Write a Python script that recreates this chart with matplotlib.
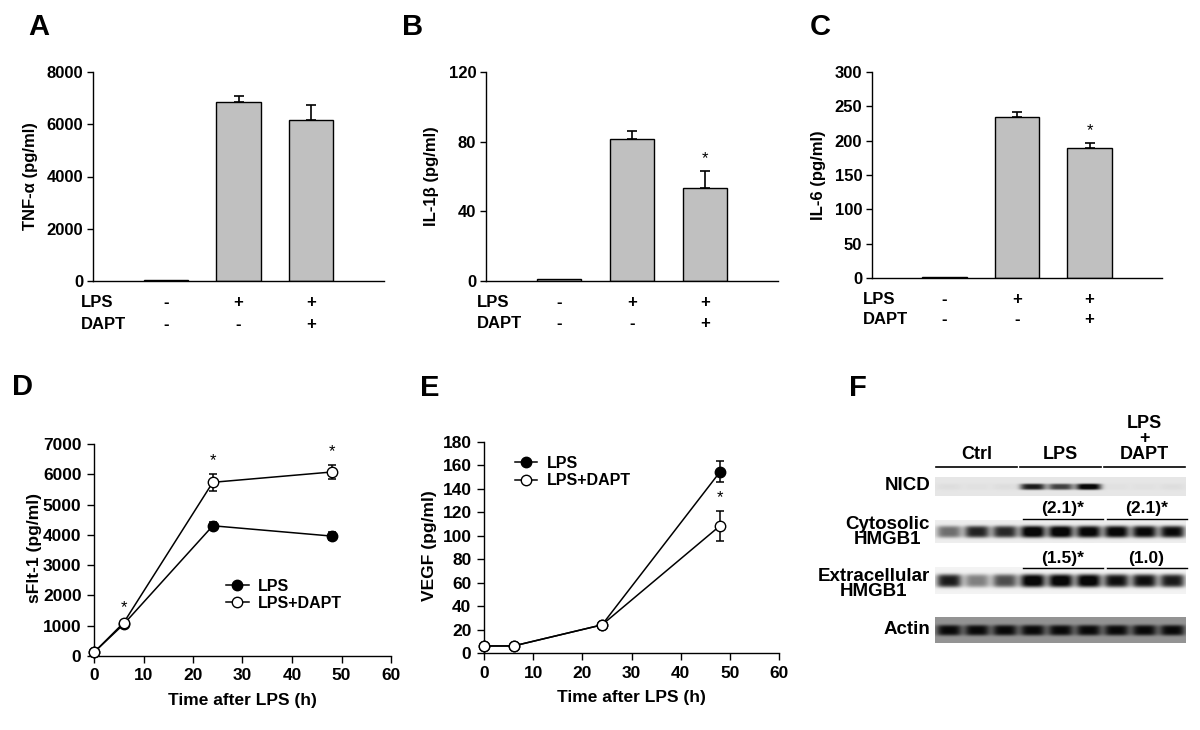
import matplotlib
matplotlib.use('Agg')
import matplotlib.pyplot as plt
import numpy as np

plt.rcParams['font.family'] = ['Liberation Sans', 'DejaVu Sans']
plt.rcParams['font.weight'] = 'bold'
plt.rcParams['axes.linewidth'] = 1.0

# ---- values ----
lps_signs = ['-', '+', '+']
dapt_signs = ['-', '-', '+']

tnf = [30, 6850, 6180]
tnf_err = [0, 230, 550]
tnf_star = [False, False, False]

il1b = [1.2, 81.8, 53.5]
il1b_err = [0, 4.2, 9.4]
il1b_star = [False, False, True]

il6 = [0.8, 234, 189]
il6_err = [0, 8, 7]
il6_star = [False, False, True]

hours = [0, 6, 24, 48]
sflt_lps = [120, 1050, 4300, 3960]
sflt_lps_err = [40, 60, 120, 140]
sflt_dapt = [120, 1100, 5735, 6075]
sflt_dapt_err = [40, 70, 290, 230]
sflt_star = [False, True, True, True]

vegf_lps = [6, 6, 24, 154.5]
vegf_lps_err = [0.8, 0.5, 1.0, 9]
vegf_dapt = [6, 6, 24, 108.5]
vegf_dapt_err = [0.8, 0.5, 1.0, 13]
vegf_star = [False, False, False, True]

# western blot (F): relative band darkness per lane (3 lanes per group)
blot_groups = ['Ctrl', 'LPS', 'LPS\n+\nDAPT']
nicd = [0.03, 0.02, 0.03, 0.8, 0.65, 0.95, 0.02, 0.02, 0.03]
cyto_hmgb1 = [0.5, 0.8, 0.78, 1.0, 1.0, 0.95, 0.95, 0.92, 0.9]
extra_hmgb1 = [0.85, 0.45, 0.65, 1.0, 1.0, 1.0, 0.9, 0.9, 0.85]
actin = [0.55, 0.55, 0.55, 0.55, 0.55, 0.55, 0.55, 0.55, 0.55]
cyto_ratio = ['', '(2.1)*', '(2.1)*']
extra_ratio = ['', '(1.5)*', '(1.0)']

W, H = 1200, 730
fig = plt.figure(figsize=(12, 7.3), dpi=100)


def px_axes(x0, x1, ytop, ybot):
    return fig.add_axes([x0 / W, 1 - ybot / H, (x1 - x0) / W, (ybot - ytop) / H])


def panel_letter(x, y, s):
    fig.text(x / W, 1 - y / H, s, fontsize=21, fontweight='bold', ha='center', va='center')


def add_stars(ax, x, y, err, stars):
    for xi, yi, ei, s in zip(x, y, err, stars):
        if s:
            ax.annotate('*', (xi, yi + ei), xytext=(0, 4), textcoords='offset points',
                        ha='center', va='bottom', fontsize=12, fontweight='normal')


def bar_panel(ax, vals, errs, stars, ymax, ystep, ylabel, name_x, row_y, ylab_x):
    pos = np.arange(len(vals))
    vals = np.array(vals, float)
    errs = np.array(errs, float)
    ax.bar(pos, vals, width=0.61, color='#c0c0c0', edgecolor='black', linewidth=1.0)
    m = errs > 0
    ax.errorbar(pos[m], vals[m], yerr=[np.zeros(m.sum()), errs[m]], fmt='none',
                ecolor='black', elinewidth=1.2, capsize=3.5, capthick=1.2)
    add_stars(ax, pos, vals, errs, stars)
    ax.set_xlim(-1.0, 3.0)
    ax.set_ylim(0, ymax)
    ax.set_yticks(np.arange(0, ymax + 1, ystep))
    ax.set_xticks([])
    ax.spines[['top', 'right']].set_visible(False)
    ax.tick_params(axis='y', direction='out', length=4, width=1, labelsize=12, pad=3)
    ax.set_ylabel(ylabel, fontsize=12, fontweight='bold')
    ax.yaxis.set_label_coords(ylab_x, 0.5)
    tr = ax.get_xaxis_transform()
    for ry, name, signs in zip(row_y, ['LPS', 'DAPT'], [lps_signs, dapt_signs]):
        ax.text(name_x, ry, name, transform=tr, ha='left', va='center', fontsize=12)
        for i, s in enumerate(signs):
            ax.text(pos[i], ry, s, transform=tr, ha='center', va='center', fontsize=12)


def time_panel(ax, lps, lps_err, dapt, dapt_err, stars, ymax, ystep, ylabel, ylab_x, xlab_y, leg_xy):
    for y, e, fc, lab, z in [(lps, lps_err, 'black', 'LPS', 3), (dapt, dapt_err, 'white', 'LPS+DAPT', 4)]:
        ax.plot(hours, y, color='black', lw=1.1, marker='o', ms=7.5, mfc=fc, mec='black',
                mew=1.0, label=lab, clip_on=False, zorder=z + 1)
        eb = ax.errorbar(hours, y, yerr=e, fmt='none', ecolor='black', elinewidth=1.1,
                         capsize=3, capthick=1.1, zorder=z)
        for art in eb.lines[1] + eb.lines[2]:
            art.set_clip_on(False)
    add_stars(ax, hours, dapt, dapt_err, stars)
    ax.set_xlim(0, 60)
    ax.set_ylim(0, ymax)
    ax.set_xticks(np.arange(0, 61, 10))
    ax.set_yticks(np.arange(0, ymax + 1, ystep))
    ax.spines[['top', 'right']].set_visible(False)
    ax.tick_params(direction='out', length=5, width=1, labelsize=12.5, pad=4)
    ax.set_ylabel(ylabel, fontsize=12.5, fontweight='bold')
    ax.yaxis.set_label_coords(ylab_x, 0.51)
    ax.set_xlabel('Time after LPS (h)', fontsize=12.5, fontweight='bold')
    ax.xaxis.set_label_coords(0.5, xlab_y)
    ax.legend(loc='upper left', bbox_to_anchor=leg_xy, frameon=False,
              handlelength=1.4, handletextpad=0.6, borderpad=0, borderaxespad=0,
              labelspacing=0.15, prop={'weight': 'bold', 'size': 11.5})


# A, B, C
ax_a = px_axes(93, 384, 72, 281)
bar_panel(ax_a, tnf, tnf_err, tnf_star, 8000, 2000, 'TNF-α (pg/ml)', -1.17, [-0.105, -0.206], -0.19)
ax_b = px_axes(486, 778, 72, 281)
bar_panel(ax_b, il1b, il1b_err, il1b_star, 120, 40, 'IL-1β (pg/ml)', -1.12, [-0.105, -0.205], -0.16)
ax_c = px_axes(872, 1162, 72, 278)
bar_panel(ax_c, il6, il6_err, il6_star, 300, 50, 'IL-6 (pg/ml)', -1.12, [-0.105, -0.2], -0.16)

# D, E
ax_d = px_axes(94, 391, 444, 656)
time_panel(ax_d, sflt_lps, sflt_lps_err, sflt_dapt, sflt_dapt_err, sflt_star, 7000, 1000,
           'sFlt-1 (pg/ml)', -0.175, -0.175, (0.445, 0.365))
ax_e = px_axes(484, 779, 442, 653)
time_panel(ax_e, vegf_lps, vegf_lps_err, vegf_dapt, vegf_dapt_err, vegf_star, 180, 20,
           'VEGF (pg/ml)', -0.16, -0.175, (0.105, 0.935))

# F: blot drawn in pixel coordinates
ax_f = px_axes(800, 1200, 370, 660)
bx0, bx1 = 935, 1186
lane_w = (bx1 - bx0) / 9
lane_x = bx0 + (np.arange(9) + 0.5) * lane_w

rows = [('NICD', nicd, 477, 496, 0.10, 2.6, 486),
        ('Cytosolic\nHMGB1', cyto_hmgb1, 520, 543, 0.07, 5.0, 532),
        ('Extracellular\nHMGB1', extra_hmgb1, 567, 594, 0.05, 5.5, 584),
        ('Actin', actin, 617, 643, 0.42, 4.5, 630)]
for name, bands, y0, y1, bg, sy, ty in rows:
    xs = np.arange(bx0, bx1, 0.5)
    ys = np.arange(y0, y1, 0.5)
    X, Y = np.meshgrid(xs, ys)
    yc = (y0 + y1) / 2
    img = np.full(X.shape, bg)
    for xc, a in zip(lane_x, bands):
        img += a * np.exp(-0.5 * ((X - xc) / (lane_w * 0.38)) ** 4 - 0.5 * ((Y - yc) / sy) ** 4)
    ax_f.imshow(np.clip(img, 0, 0.97), cmap='gray_r', vmin=0, vmax=1, aspect='auto',
                extent=[bx0, bx1, y1, y0], interpolation='bilinear')
    ax_f.text(930, ty, name, ha='right', va='center', multialignment='center',
              fontsize=13.5, fontweight='bold', linespacing=0.85)

for g, name in enumerate(blot_groups):
    gx0 = lane_x[3 * g] - lane_w * 0.45
    gx1 = lane_x[3 * g + 2] + lane_w * 0.45
    ax_f.plot([gx0, gx1], [466.5, 466.5], color='black', lw=1.2)
    ax_f.text((gx0 + gx1) / 2, 463, name, ha='center', va='bottom', fontsize=13,
              fontweight='bold', linespacing=0.9)
    for ratio, ly in [(cyto_ratio[g], 518.5), (extra_ratio[g], 567.5)]:
        if ratio:
            ax_f.plot([gx0 + 3, gx1 + 2], [ly, ly], color='black', lw=1.0)
            ax_f.text((gx0 + gx1) / 2 + 2, ly - 2, ratio, ha='center', va='bottom',
                      fontsize=12.5, fontweight='bold')

ax_f.set_xlim(800, 1200)
ax_f.set_ylim(660, 370)
ax_f.axis('off')

panel_letter(39, 27, 'A')
panel_letter(413, 27, 'B')
panel_letter(820, 27, 'C')
panel_letter(22, 387, 'D')
panel_letter(430, 388, 'E')
panel_letter(858, 388, 'F')

fig.savefig('out.png', dpi=100)
